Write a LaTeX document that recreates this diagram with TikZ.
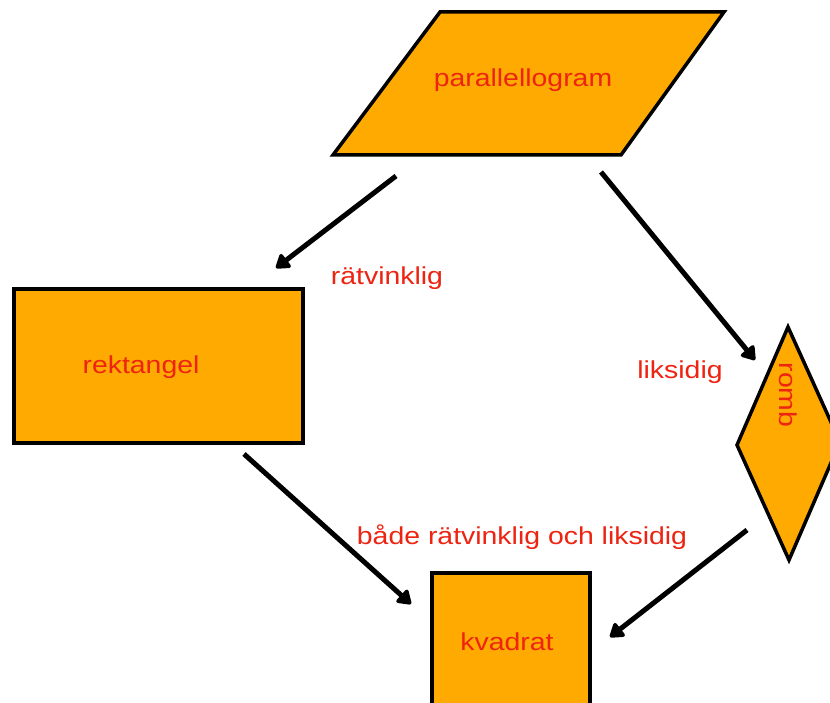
\documentclass[tikz,border=0pt]{standalone}
\usepackage{fontspec}
\setmainfont{Liberation Sans}[FakeStretch=1.16]
\usetikzlibrary{arrows.meta}
\definecolor{shapefill}{RGB}{255,170,0}
\definecolor{labelred}{RGB}{238,36,18}
\tikzset{
  shapebox/.style={fill=shapefill,draw=black,line width=3.5pt,line join=miter},
  lbl/.style={text=labelred,font=\fontsize{24.5}{28}\selectfont,inner sep=0pt},
  conn/.style={line width=5pt,-{Triangle[length=15pt,width=19pt,round]}},
}
\begin{document}
\begin{tikzpicture}[x=1pt,y=1pt]
\useasboundingbox (0,0) rectangle (830,702);
\fill[white] (0,0) rectangle (830,702);
\clip (0,0) rectangle (830,702);
% shapes
\draw[shapebox] (440,690) -- (724,690) -- (621,547) -- (333,547) -- cycle;
\draw[shapebox] (14,413) rectangle (303,259);
\draw[shapebox] (788,375) -- (840,260) -- (789,142) -- (737,257) -- cycle;
\draw[shapebox] (432,-20) rectangle (590,129);
% text nodes
\node[lbl] (par) at (523,622) {parallellogram};
\node[lbl] (rek) at (141,335) {rektangel};
\node[lbl,rotate=-90] (rom) at (788,307) {romb};
\node[lbl] (kva) at (507,60) {kvadrat};
\node[lbl] (l1) at (387,424) {rätvinklig};
\node[lbl] (l2) at (680,330) {liksidig};
\node[lbl] (l3) at (522,165) {både rätvinklig och liksidig};
% connector ends
\coordinate (a1s) at (396,526); \coordinate (a1e) at (276,434);
\coordinate (a2s) at (601,530); \coordinate (a2e) at (755,342);
\coordinate (a3s) at (244,248); \coordinate (a3e) at (411,98);
\coordinate (a4s) at (747,172); \coordinate (a4e) at (610,65);
\draw[conn] (a1s) -- (a1e);
\draw[conn] (a2s) -- (a2e);
\draw[conn] (a3s) -- (a3e);
\draw[conn] (a4s) -- (a4e);
\end{tikzpicture}
\end{document}
